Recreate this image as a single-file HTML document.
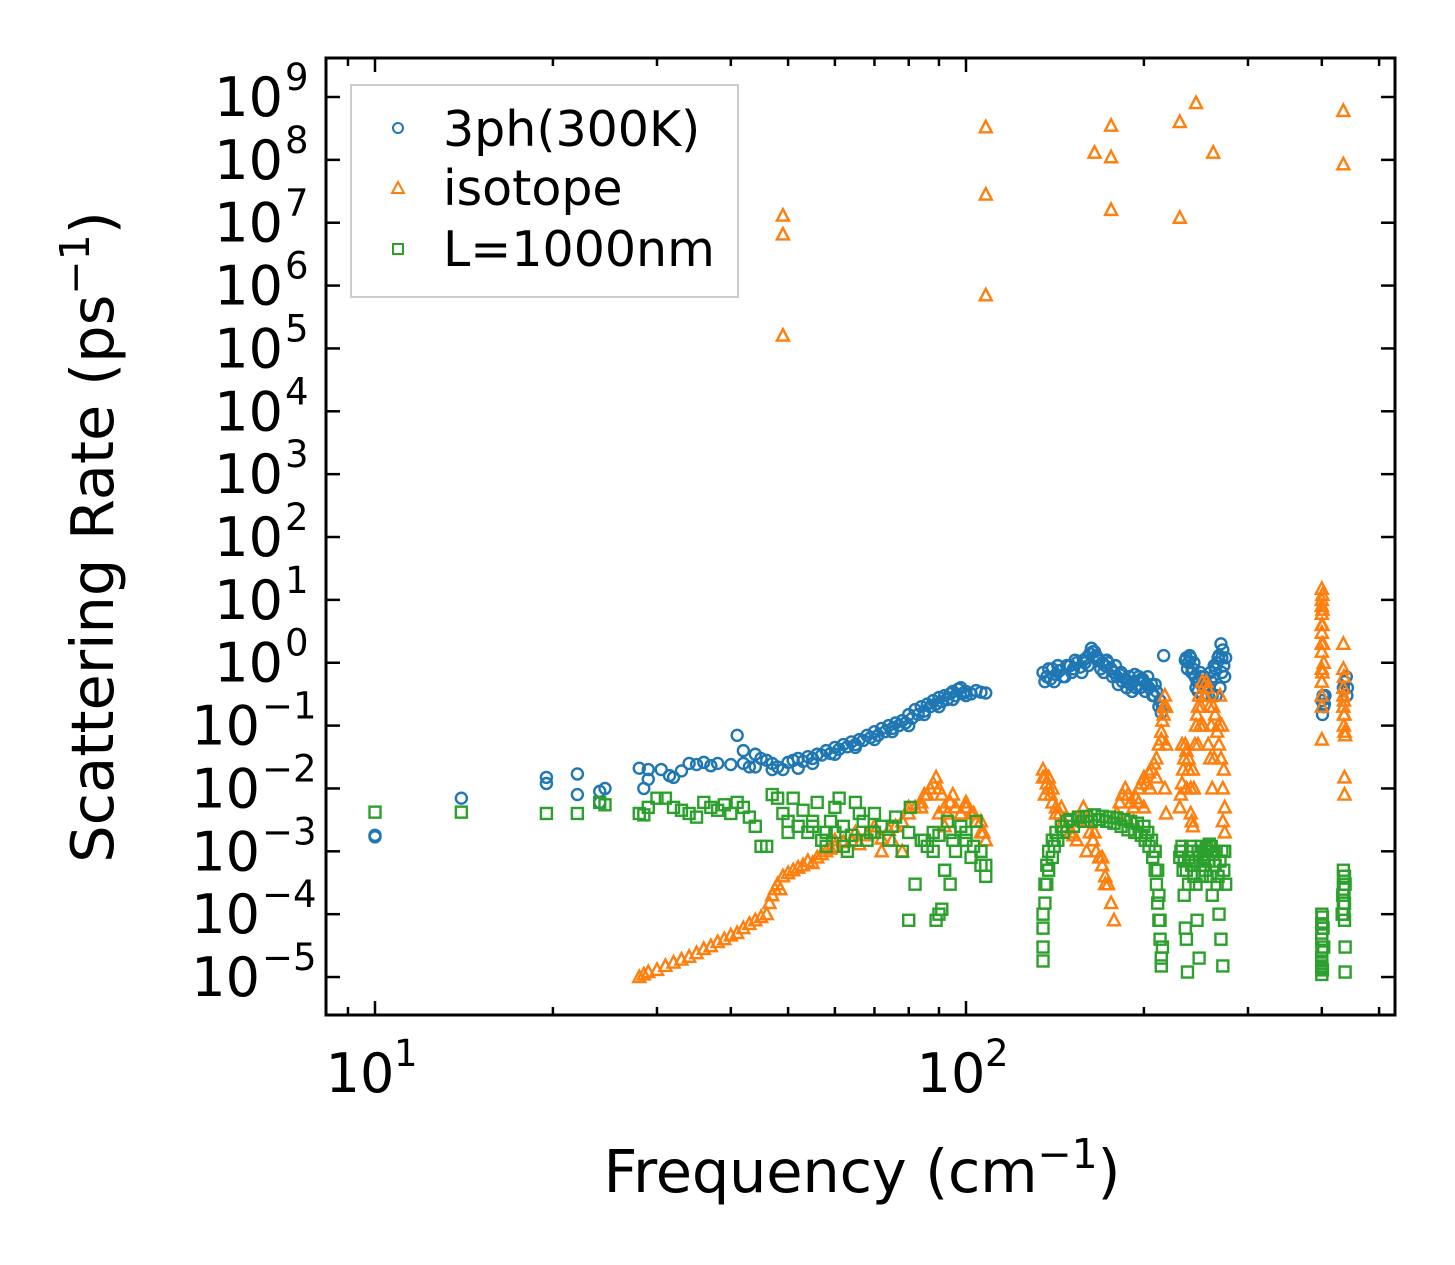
<!DOCTYPE html>
<html><head><meta charset="utf-8"><style>
html,body{margin:0;padding:0;background:#fff;}
svg{display:block;font-family:"DejaVu Sans","Liberation Sans",sans-serif;}
</style></head><body>
<svg id="chart" width="1455" height="1265" viewBox="0 0 1455 1265" xmlns="http://www.w3.org/2000/svg">
<rect width="1455" height="1265" fill="#fff"/>
<g id="marks"></g>
<g id="axes"></g>
<text x="862" y="1192" font-size="59" text-anchor="middle" textLength="517">Frequency (cm<tspan font-size="41" dy="-24">−1</tspan><tspan dy="24">)</tspan></text>
<text transform="translate(113,537) rotate(-90)" font-size="59" text-anchor="middle">Scattering Rate (ps<tspan font-size="41" dy="-24">−1</tspan><tspan dy="24">)</tspan></text>
<g>
<rect x="351" y="85" width="387" height="212" fill="#fff" stroke="#ccc" stroke-width="2"/>
<g><circle cx="398" cy="128" r="5" fill="none" stroke="#1f77b4" stroke-width="2"/><text x="443" y="146" font-size="49">3ph(300K)</text></g>
<g><polygon points="398,182 404,193 392,193" fill="none" stroke="#ff7f0e" stroke-width="2"/><text x="443" y="205" font-size="49">isotope</text></g>
<g><rect x="393" y="244" width="10" height="10" fill="none" stroke="#2ca02c" stroke-width="2"/><text x="443" y="266" font-size="49">L=1000nm</text></g>
</g>
</svg>
<script>
const xTicks=[10,100];
const xTickLabels=["1","2"];
const yExps=[9,8,7,6,5,4,3,2,1,0,-1,-2,-3,-4,-5];
const threeF=[10,10,14,19.5,19.5,22,22,24,24,24.5,28,28.5,29,29,30.5,31.5,32,33,34,35,36,37,38,40,41,42,42,43,44,45,46,47,48,49,50,51,52,53,54,55,56,57,58,59,60,61,62,63,64,65,66,67,68,69,70,71,72,73,74,75,76,77,78,79,80,81,82,83,84,85,86,87,88,89,90,91,92,93,94,95,96,97,98,99,100,102,104,106,108,135,136,137,138,139,140,142,144,146,148,150,152,154,156,158,160,162,163,164,165,166,168,170,172,174,176,178,180,182,184,186,188,190,192,194,196,198,200,202,204,206,208,210,212,213,214,215,216,235,236,238,240,242,244,245,246,248,250,252,254,256,258,260,262,264,266,268,270,271,272,273,274,275,400,401,402,403,404,405,435,437,440,441,442];
const threeV=[1.8e-3,1.7e-3,7e-3,1.5e-2,1.2e-2,1.7e-2,8e-3,9e-3,6e-3,1e-2,2.1e-2,1e-2,1.4e-2,2e-2,2e-2,1.6e-2,1.5e-2,1.9e-2,2.5e-2,2.4e-2,2.6e-2,2.3e-2,2.5e-2,2.4e-2,7e-2,4e-2,2.5e-2,2.2e-2,3.5e-2,3e-2,2.8e-2,2.5e-2,2.2e-2,2e-2,2.6e-2,2.8e-2,3e-2,2.7e-2,3.2e-2,3e-2,3.5e-2,3.4e-2,4e-2,3.6e-2,4.5e-2,4.2e-2,5e-2,4.6e-2,5.5e-2,5e-2,6e-2,5.8e-2,7e-2,6.5e-2,8e-2,7e-2,9e-2,8e-2,1e-1,9e-2,1.1e-1,1e-1,1.2e-1,1.1e-1,1.5e-1,1.3e-1,1.8e-1,1.5e-1,2e-1,1.7e-1,2.2e-1,2e-1,2.5e-1,2.2e-1,2.8e-1,2.4e-1,3e-1,2.6e-1,3.2e-1,3.5e-1,3e-1,3.8e-1,4e-1,3.3e-1,3.5e-1,3.2e-1,3.6e-1,3.4e-1,3.3e-1,7e-1,5e-1,6e-1,8e-1,5.5e-1,8e-1,6.5e-1,7.5e-1,6e-1,9e-1,9e-1,8e-1,1e0,8.5e-1,1.1,1.2,1.4,1.7,1.5,1.5,1.3,1.1,1,9e-1,1,8e-1,7e-1,6e-1,6.5e-1,5e-1,5.5e-1,5e-1,4.5e-1,5e-1,4e-1,6e-1,5.5e-1,5e-1,4.5e-1,4e-1,4.5e-1,3e-1,3.5e-1,2e-1,2.5e-1,1.6e-1,2e-1,1.3,1.1,1.2,1,1.2,8e-1,6e-1,4e-1,5e-1,5e-1,6e-1,4e-1,5e-1,4e-1,4e-1,5e-1,6e-1,8e-1,1,1.3,2,1.2,1.6,9e-1,6e-1,1.2,2.5e-1,1.5e-1,3e-1,2e-1,2.2e-1,3e-1,4e-1,5e-1,6e-1,3e-1,4e-1];
const threeFExtra=[141,143,147,151,153,157,159,161,167,169,171,173,177,179,181,183,187,189,191,193,197,199,201,203,207,209,237,239,241,243,247,249,251,253,257,259,261,263,265,267,269,271,55,60,65,70,75,80,85,90,95,100,44,47,52];
const threeVExtra=[0.5,0.9,0.6,0.7,1.1,0.7,1,0.9,1.2,0.8,0.7,1.1,0.6,0.9,0.45,0.7,0.4,0.6,0.35,0.65,0.4,0.55,0.35,0.6,0.3,0.45,0.8,1.3,0.7,1,0.35,0.7,0.3,0.6,0.3,0.7,0.3,0.9,0.3,1.2,0.4,0.7,2.5e-2,3.5e-2,4.5e-2,6e-2,8e-2,1e-1,1.5e-1,2e-1,2.6e-1,3e-1,2.2e-2,2e-2,2.1e-2];
const isoF=[49,49,49,108,108,108,165,176,176,176,230,230,245,262,435,435,28,28.5,29,30,31,32,33,34,35,36,37,38,39,40,41,42,43,44,45,46,46.5,47,47.5,48,48.5,49,50,51,52,53,54,55,56,57,58,59,60,62,64,66,68,70,72,74,76,78,80,82,84,86,88,89,90,91,92,93,94,96,98,100,102,104,106,108,135,136,137,138,139,140,142,144,146,148,150,152,154,156,158,160,162,164,166,168,170,172,174,176,178,180,182,184,186,188,190,192,194,196,198,200,202,204,206,208,210,212,214,215,216,217,230,231,232,233,234,235,236,238,240,242,244,245,246,247,248,250,252,254,255,256,258,260,262,264,266,268,270,272,274,400,400,400,400,400,400,400,400,401,401,402,403,435,435,435,435,436,436,437,437,438];
const isoV=[1.3e7,6.5e6,1.6e5,3.3e8,2.8e7,7e5,1.3e8,3.5e8,1.1e8,1.6e7,4e8,1.2e7,8e8,1.3e8,6e8,8.5e7,1e-5,1.1e-5,1.2e-5,1.3e-5,1.5e-5,1.7e-5,1.9e-5,2.1e-5,2.4e-5,2.8e-5,3.1e-5,3.6e-5,4e-5,4.6e-5,5e-5,6e-5,7e-5,8e-5,9e-5,1e-4,1.5e-4,2e-4,2.5e-4,3e-4,2.5e-4,4e-4,4.5e-4,5e-4,5.5e-4,6e-4,7e-4,6.5e-4,8e-4,9e-4,1e-3,1.1e-3,1.2e-3,1.4e-3,1.5e-3,1.3e-3,1.8e-3,2e-3,1.6e-3,2.2e-3,2.5e-3,3e-3,4e-3,5e-3,6e-3,8e-3,1.2e-2,1.5e-2,1e-2,8e-3,5e-3,4e-3,6e-3,5e-3,4e-3,6e-3,4e-3,3e-3,2e-3,1.5e-3,2e-2,1.5e-2,1.2e-2,1e-2,8e-3,6e-3,5e-3,4e-3,3e-3,2.5e-3,2e-3,1.8e-3,1.5e-3,3e-3,5e-3,3e-3,2e-3,1.5e-3,1e-3,8e-4,6e-4,4e-4,3e-4,1.5e-4,8e-5,4e-3,6e-3,8e-3,1e-2,8e-3,6e-3,5e-3,7e-3,1e-2,1.2e-2,1.5e-2,1.2e-2,1.8e-2,2e-2,2.5e-2,3e-2,5e-2,8e-2,1.2e-1,2e-1,3e-1,5e-3,8e-3,1.2e-2,2e-2,3e-2,5e-2,4e-2,3e-2,1e-2,2e-2,5e-2,1e-1,1.5e-1,2e-1,3e-1,2e-1,1e-1,3e-1,5e-1,4e-1,2e-1,1e-1,2e-1,1.5e-1,8e-2,5e-2,3e-2,1e-2,5e-3,15,10,6,3,1.5,8e-1,3e-1,6e-2,12,4,2,1,2,8e-1,4e-1,2e-1,1.5e-1,1e-1,1.5e-2,8e-3,7e-2];
const isoFExtra=[135,136,138,140,142,145,150,155,160,165,170,172,232,236,238,241,243,247,249,251,253,257,259,261,263,267,269,271,273,272,274,240,242,192,196,200,205,210,214,216,218,218,217,218,400,400,400,400,400,401,401,435,436,436,437,437,60,65,70,75,80,85,87,95,100,103,106,107,90,92,78,72,84];
const isoVExtra=[1.5e-2,8e-3,1.5e-2,1e-2,4e-3,5e-3,2e-3,3e-3,1e-3,2e-3,8e-4,3e-4,5e-2,1e-2,2e-2,3e-3,1e-2,5e-2,1e-1,5e-1,3e-1,5e-2,3e-2,1e-2,3e-2,1e-1,3e-1,1e-1,2e-2,3e-3,2e-3,4e-3,2.5e-3,3e-3,6e-3,5e-3,1e-2,1.5e-2,6e-2,1.5e-1,2e-1,5e-2,1e-2,4e-3,8,4,2,0.5,0.2,7,0.7,0.3,0.6,0.25,0.15,0.08,1.5e-3,2e-3,2.5e-3,1.5e-3,5e-3,8e-3,1e-2,8e-3,5e-3,4e-3,3e-3,2e-3,4e-3,2.5e-3,1e-3,1e-3,5e-3];
const bndF=[10,14,19.5,22,24,24.5,28,28.5,29,30,31,32,33,34,35,36,37,38,39,40,41,42,43,44,45,46,47,48,49,50,51,52,53,54,55,56,57,58,59,60,61,62,63,64,65,66,67,68,69,70,72,74,76,78,80,80.5,82,84,86,88,89,90,91,92,93,94,96,98,100,102,104,106,108,135,135,135,135,136,137,138,140,142,145,148,150,155,160,165,170,175,180,185,190,195,200,203,206,209,211,212,213,213,214,214,215,230,231,232,233,234,235,236,237,238,240,242,244,245,246,248,250,252,254,256,258,260,262,264,266,268,270,272,274,400,400,400,400,400,400,400,401,402,403,433,434,435,435,436,436,437,437,438,438];
const bndV=[4.2e-3,4.2e-3,4e-3,4e-3,6e-3,5.5e-3,4e-3,3.8e-3,5e-3,7e-3,7e-3,5e-3,4.5e-3,4e-3,3.5e-3,6e-3,5e-3,4.5e-3,5.5e-3,4e-3,6e-3,5e-3,3.5e-3,2.5e-3,1.2e-3,1.2e-3,8e-3,7e-3,4e-3,3e-3,7e-3,2.5e-3,4.5e-3,2e-3,3e-3,6e-3,1.5e-3,2e-3,3e-3,5e-3,7e-3,2.5e-3,1e-3,1.8e-3,6e-3,4e-3,3e-3,1.5e-3,2e-3,4e-3,2.5e-3,1.5e-3,3.5e-3,1e-3,8e-5,5e-3,3e-4,1.5e-3,1.2e-3,2e-3,8e-5,1e-4,1.2e-4,5e-4,3e-3,2e-3,1e-3,2.5e-3,1.5e-3,8e-4,3e-3,6e-4,4e-4,1.8e-5,3e-5,6e-5,1e-4,3e-4,6e-4,1e-3,1.5e-3,2e-3,2.5e-3,3e-3,3.2e-3,3.5e-3,3.6e-3,3.8e-3,3.6e-3,3.5e-3,3.4e-3,3.2e-3,3e-3,2.8e-3,2.5e-3,2e-3,1.5e-3,1e-3,5e-4,2e-4,8e-5,4e-5,2e-5,1.5e-5,3e-5,8e-4,1e-3,1.2e-3,5e-4,2e-4,6e-5,4e-5,1.2e-5,3e-4,1.2e-3,1e-3,7e-4,3e-4,8e-5,2e-5,1.2e-3,8e-4,5e-4,1e-3,1.3e-3,1.2e-3,9e-4,6e-4,3e-4,1e-4,4e-5,1.5e-5,1e-3,1e-4,7e-5,4e-5,2.5e-5,1.8e-5,1.4e-5,1.1e-5,9e-5,6e-5,3e-5,1e-4,2e-4,3e-4,5e-4,4e-4,2e-4,1.5e-4,8e-5,3e-5,1.2e-5];
const bndFExtra=[136,137,138,140,141,143,146,152,158,163,168,173,178,183,188,193,198,201,204,207,209,210,211,212,232,234,236,238,241,243,247,249,251,253,255,257,259,261,263,265,267,269,271,273,275,50,55,60,65,70,75,80,85,90,95,100,103,106,108,92,94,88,62,58,400,400,400,400,400,401,401,435,436,437,438,436];
const bndVExtra=[1.5e-4,3e-4,5e-4,8e-4,1.2e-3,1.5e-3,2e-3,2.5e-3,3e-3,3e-3,3.2e-3,3e-3,2.8e-3,2.5e-3,2.2e-3,2e-3,1.8e-3,1.5e-3,1.2e-3,8e-4,5e-4,3e-4,1.5e-4,8e-5,1e-3,7e-4,5e-4,8e-4,6e-4,4e-4,1e-3,6e-4,4e-4,8e-4,1.1e-3,7e-4,4e-4,2e-4,6e-4,1e-3,4e-4,7e-4,1e-3,5e-4,3e-4,2e-3,2.5e-3,2e-3,1.5e-3,2e-3,2.5e-3,2e-3,1.5e-3,1.8e-3,1.5e-3,2e-3,1.2e-3,1e-3,6e-4,5e-4,3e-4,1e-3,1.2e-3,1.2e-3,1.5e-5,2e-5,4e-5,5e-5,7e-5,1.3e-5,6e-5,1.5e-4,2.5e-4,4e-4,3e-4,1e-4];
const L=326,R=1395,T=58,B=1015,X10=375,DEC=591,Y9=97,YDEC=62.86;
function xs(f){return X10+(Math.log10(f)-1)*DEC;}
function ys(v){return Y9+(9-Math.log10(v))*YDEC;}
const NS="http://www.w3.org/2000/svg";
const marks=document.getElementById('marks'),axes=document.getElementById('axes');
function mk(t,a,p){const e=document.createElementNS(NS,t);for(const k in a)e.setAttribute(k,a[k]);p.appendChild(e);return e;}
const tF=threeF.concat(threeFExtra),tV=threeV.concat(threeVExtra);
const iF=isoF.concat(isoFExtra),iV=isoV.concat(isoVExtra);
const bF=bndF.concat(bndFExtra),bV=bndV.concat(bndVExtra);
for(let i=0;i<tF.length&&i<tV.length;i++){const c=mk('circle',{cx:xs(tF[i]),cy:ys(tV[i]),r:5.5,fill:'none',stroke:'#1f77b4','stroke-width':2.4},marks);

}
for(let i=0;i<iF.length&&i<iV.length;i++){const x=xs(iF[i]),y=ys(iV[i]);const p=mk('polygon',{points:x+','+(y-6.5)+' '+(x+6)+','+(y+5)+' '+(x-6)+','+(y+5),fill:'none',stroke:'#ff7f0e','stroke-width':2.4},marks);

}
for(let i=0;i<bF.length&&i<bV.length;i++){const s=mk('rect',{x:xs(bF[i])-5.5,y:ys(bV[i])-5.5,width:11,height:11,fill:'none',stroke:'#2ca02c','stroke-width':2.4},marks);

}
const frame=mk('rect',{x:L,y:T,width:R-L,height:B-T,fill:'none',stroke:'#000','stroke-width':3},axes);


for(let d=0;d<3;d++){for(let m=1;m<10;m++){const f=Math.pow(10,d)*m;const x=xs(f);if(x<L||x>R)continue;const len=m===1?14:8;
const t1=mk('line',{x1:x,x2:x,y1:B,y2:B-len,stroke:'#000','stroke-width':2.5},axes);


mk('line',{x1:x,x2:x,y1:T,y2:T+len,stroke:'#000','stroke-width':2.5},axes);}}
xTicks.forEach((f,i)=>{const t=mk('text',{x:xs(f)-15,y:1092,'font-size':54,'text-anchor':'middle'},axes);t.textContent='10';


const s=mk('text',{x:xs(f)+19,y:1066,'font-size':37},axes);s.textContent=xTickLabels[i];});
yExps.forEach(e=>{const y=ys(Math.pow(10,e));
mk('line',{x1:L,x2:L+14,y1:y,y2:y,stroke:'#000','stroke-width':2.5},axes);
mk('line',{x1:R,x2:R-14,y1:y,y2:y,stroke:'#000','stroke-width':2.5},axes);
const sup=e<0?'−'+(-e):String(e);
const supW=sup.length*23;
const t=mk('text',{x:306-supW,y:y+19,'font-size':54,'text-anchor':'end'},axes);t.textContent='10';


const s=mk('text',{x:308-supW,y:y-7,'font-size':37},axes);s.textContent=sup;});
</script>
</body></html>
